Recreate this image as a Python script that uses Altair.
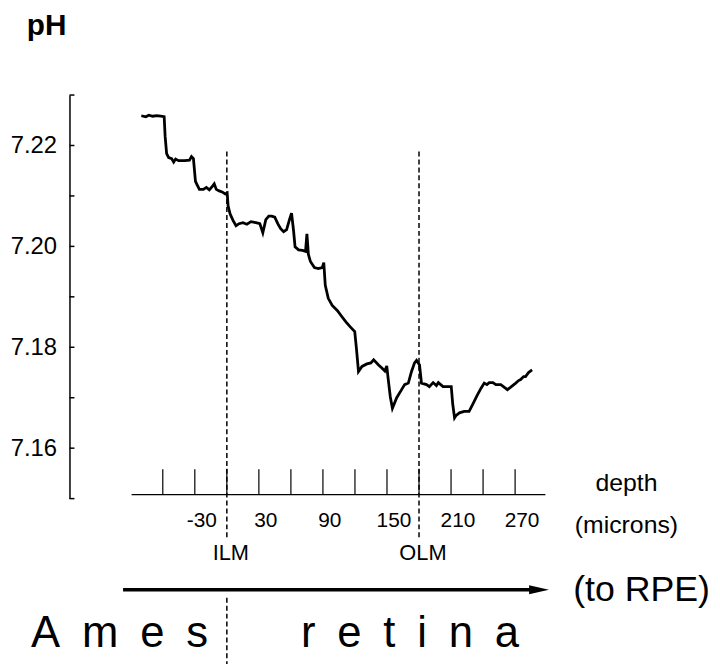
import altair as alt
import pandas as pd

# ---- trace (depth in microns, pH) ----
depth = [-80.1, -75.9, -73.1, -69.4, -65.7, -62.0, -58.7, -57.8, -56.4, -54.5,
         -51.7, -49.8, -48.0, -45.2, -39.6, -35.0, -33.1, -31.3, -29.4, -27.6,
         -25.7, -22.0, -19.2, -16.4, -13.6, -11.8, -9.9, -7.2, -4.4, -1.6,
         0.3, 1.2, 3.1, 5.9, 8.6, 11.4, 15.1, 18.8, 22.6, 27.2,
         30.9, 33.7, 36.5, 39.3, 42.1, 44.9, 47.7, 50.4, 53.2, 56.0,
         58.8, 60.6, 62.5, 63.9, 67.2, 70.9, 73.7, 75.0, 76.4, 78.3,
         82.0, 85.7, 89.4, 90.8, 92.2, 95.0, 98.7, 103.4, 108.0, 111.7,
         115.4, 119.8, 121.5, 123.3, 126.6, 131.2, 134.9, 137.5, 142.1, 145.2,
         148.0, 149.8, 151.2, 153.1, 155.1, 159.1, 163.7, 166.5, 170.0, 173.0,
         175.8, 177.7, 180.5, 182.3, 187.0, 189.7, 193.2, 196.3, 198.1, 202.5,
         205.5, 210.2, 211.6, 213.3, 214.8, 217.9, 222.3, 226.9, 230.3, 234.1,
         238.1, 241.1, 243.6, 245.8, 249.2, 252.0, 256.6, 260.3, 262.8, 265.9,
         270.6, 273.3, 275.2, 278.0, 279.8, 282.6, 285.9]
ph = [7.2259, 7.2257, 7.2260, 7.2258, 7.2259, 7.2258, 7.2257, 7.2218, 7.2184, 7.2176,
      7.2174, 7.2167, 7.2173, 7.2170, 7.2170, 7.2171, 7.2178, 7.2174, 7.2129, 7.2121,
      7.2113, 7.2113, 7.2117, 7.2112, 7.2119, 7.2124, 7.2113, 7.2110, 7.2108, 7.2104,
      7.2106, 7.2080, 7.2064, 7.2051, 7.2041, 7.2045, 7.2047, 7.2044, 7.2049, 7.2047,
      7.2045, 7.2027, 7.2053, 7.2060, 7.2060, 7.2058, 7.2045, 7.2035, 7.2029, 7.2033,
      7.2054, 7.2066, 7.2031, 7.1999, 7.1993, 7.1992, 7.1990, 7.2025, 7.1984, 7.1970,
      7.1958, 7.1956, 7.1958, 7.1968, 7.1923, 7.1897, 7.1883, 7.1873, 7.1860, 7.1850,
      7.1841, 7.1831, 7.1795, 7.1752, 7.1762, 7.1767, 7.1769, 7.1775, 7.1765, 7.1759,
      7.1753, 7.1763, 7.1736, 7.1702, 7.1679, 7.1700, 7.1716, 7.1726, 7.1729, 7.1752,
      7.1769, 7.1774, 7.1765, 7.1729, 7.1726, 7.1722, 7.1730, 7.1724, 7.1730, 7.1722,
      7.1722, 7.1722, 7.1687, 7.1660, 7.1665, 7.1670, 7.1673, 7.1673, 7.1687, 7.1703,
      7.1719, 7.1729, 7.1726, 7.1730, 7.1730, 7.1726, 7.1726, 7.1720, 7.1716, 7.1721,
      7.1729, 7.1734, 7.1736, 7.1742, 7.1742, 7.1750, 7.1755]

# ---- axis / annotation content ----
x_tick_depths = [-60, -30, 0, 30, 60, 90, 120, 150, 180, 210, 240, 270]
x_label_depths = [-30, 30, 90, 150, 210, 270]
x_label_texts = ["-30", "30", "90", "150", "210", "270"]
y_tick_values = [7.15, 7.16, 7.17, 7.18, 7.19, 7.20, 7.21, 7.22, 7.23]
y_label_values = [7.16, 7.18, 7.20, 7.22]
marker_depths = [0, 180]
marker_names = ["ILM", "OLM"]
region_depths = [-100.5, 171.6]
region_names = ["A\u2002m\u2002e\u2002s", "r\u2002e\u2002t\u2002i\u2002n\u2002a"]

X_DOMAIN = [-147.4, 298.4]
Y_DOMAIN = [7.15, 7.23]
AXIS_START = -89.2
AXIS_PH = 7.1508
TICK_TOP_PH = 7.1558
ARROW_START = -97.2
ARROW_HEAD = 292.4
RPE_DEPTH = 324.4
UNIT_DEPTH = 374.3
FONT = "Liberation Sans"

xs = alt.Scale(domain=X_DOMAIN, nice=False, zero=False)
ys = alt.Scale(domain=Y_DOMAIN, nice=False, zero=False)
Y_AXIS = alt.Axis(
    values=y_label_values, format=".2f", ticks=False, tickSize=0,
    labelPadding=13, labelFontSize=24, labelFont=FONT, labelColor="black",
    domainColor="black", domainWidth=1.5, grid=False, title=None)


def Y(field):
    return alt.Y(field, scale=ys, axis=Y_AXIS)


def X(field):
    return alt.X(field, scale=xs, axis=None)


trace_df = pd.DataFrame({"depth": depth, "pH": ph, "i": list(range(len(depth)))})
trace = alt.Chart(trace_df).mark_line(color="black", strokeWidth=2.8).encode(
    x=X("depth:Q"), y=Y("pH:Q"), order="i:Q",
)

yticks = alt.Chart(pd.DataFrame({"pH": y_tick_values})).mark_rule(
    color="black", strokeWidth=1.5).encode(
    y=Y("pH:Q"), x=alt.value(0), x2=alt.value(5),
)

xaxis = alt.Chart(pd.DataFrame({"a": [AXIS_START], "b": [X_DOMAIN[1]], "pH": [AXIS_PH]})).mark_rule(
    color="black", strokeWidth=1.3).encode(
    x=X("a:Q"), x2="b:Q", y=Y("pH:Q"),
)

xticks = alt.Chart(pd.DataFrame({"depth": x_tick_depths, "p0": AXIS_PH, "p1": TICK_TOP_PH})).mark_rule(
    color="black", strokeWidth=1.2).encode(
    x=X("depth:Q"), y=Y("p0:Q"), y2="p1:Q",
)

xlabels = alt.Chart(pd.DataFrame({"depth": x_label_depths, "t": x_label_texts})).mark_text(
    font=FONT, fontSize=21, color="black", dx=7, baseline="middle", align="center").encode(
    x=X("depth:Q"), y=alt.value(430), text="t:N",
)

mdf = pd.DataFrame({"depth": marker_depths, "t": marker_names})
dashes = alt.Chart(mdf).mark_rule(color="black", strokeWidth=1.5, strokeDash=[5, 3]).encode(
    x=X("depth:Q"), y=alt.value(57), y2=alt.value(447),
)
mlabels = alt.Chart(mdf).mark_text(
    font=FONT, fontSize=22, color="black", dx=4, baseline="middle", align="center").encode(
    x=X("depth:Q"), y=alt.value(462), text="t:N",
)
lower_dash = alt.Chart(pd.DataFrame({"depth": marker_depths[:1]})).mark_rule(
    color="black", strokeWidth=1.5, strokeDash=[5, 3]).encode(
    x=X("depth:Q"), y=alt.value(507), y2=alt.value(580),
)

units = alt.Chart(pd.DataFrame({"depth": [UNIT_DEPTH, UNIT_DEPTH], "t": ["depth", "(microns)"],
                                "yy": [391, 434]})).mark_text(
    font=FONT, fontSize=25, color="black", baseline="middle", align="center").encode(
    x=X("depth:Q"), y=alt.Y("yy:Q", scale=None, axis=None), text="t:N",
)

arrow = alt.Chart(pd.DataFrame({"a": [ARROW_START], "b": [ARROW_HEAD]})).mark_rule(
    color="black", strokeWidth=3.5).encode(
    x=X("a:Q"), x2="b:Q", y=alt.value(499),
)
head = alt.Chart(pd.DataFrame({"depth": [ARROW_HEAD]})).mark_point(
    shape="M -1 -0.45 L 1 0 L -1 0.45 Z", filled=True, color="black", opacity=1, size=400).encode(
    x=X("depth:Q"), y=alt.value(499),
)
rpe = alt.Chart(pd.DataFrame({"depth": [RPE_DEPTH], "t": ["(to RPE)"]})).mark_text(
    font=FONT, fontSize=36, color="black", baseline="middle", align="left").encode(
    x=X("depth:Q"), y=alt.value(499), text="t:N",
)

regions = alt.Chart(pd.DataFrame({"depth": region_depths, "t": region_names})).mark_text(
    font=FONT, fontSize=44, color="black", baseline="middle", align="center").encode(
    x=X("depth:Q"), y=alt.value(544), text="t:N",
)

ph_title = alt.Chart(pd.DataFrame({"t": ["pH"]})).mark_text(
    font=FONT, fontSize=30, fontWeight="bold", color="black", baseline="middle", align="center").encode(
    x=alt.value(-23), y=alt.value(-70), text="t:N",
)

chart = alt.layer(
    trace, yticks, xaxis, xticks, xlabels, dashes, mlabels, lower_dash,
    units, arrow, head, rpe, regions, ph_title,
).properties(
    width=480, height=407,
    padding={"left": 62, "top": 85, "right": 168, "bottom": 164},
    autosize=alt.AutoSizeParams(type="none"),
    background="white",
).configure_view(stroke=None)

chart.save("out.html", embed_options={"renderer": "svg", "actions": False})
